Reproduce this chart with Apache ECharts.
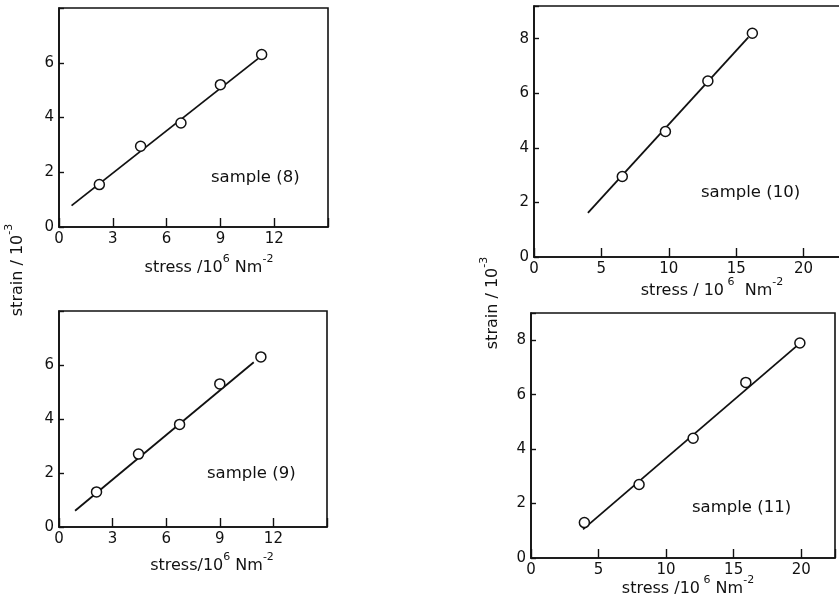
<!DOCTYPE html>
<html>
<head>
<meta charset="utf-8">
<script src="https://cdn.jsdelivr.net/npm/echarts@6/dist/echarts.min.js"></script>
<style>
html,body{margin:0;padding:0;background:#fff;}
#chart{width:839px;height:610px;}
</style>
</head>
<body>
<div id="chart"></div>
<script>
// ---- data ----
const p8StressX = [2.25, 4.55, 6.8, 9.0, 11.3];
const p8StrainY = [1.55, 2.95, 3.8, 5.2, 6.3];
const p8FitX = [0.7, 11.1];
const p8FitY = [0.78, 6.15];

const p9StressX = [2.1, 4.45, 6.75, 9.0, 11.3];
const p9StrainY = [1.3, 2.7, 3.8, 5.3, 6.3];
const p9FitX = [0.9, 10.9];
const p9FitY = [0.6, 6.1];

const p10StressX = [6.55, 9.75, 12.9, 16.2];
const p10StrainY = [2.95, 4.6, 6.45, 8.2];
const p10FitX = [4.0, 15.9];
const p10FitY = [1.62, 8.05];

const p11StressX = [3.95, 8.0, 12.0, 15.9, 19.9];
const p11StrainY = [1.3, 2.7, 4.4, 6.45, 7.9];
const p11FitX = [3.85, 19.7];
const p11FitY = [1.05, 7.8];

const leftXTicks = [0, 3, 6, 9, 12];
const leftYTicks = [0, 2, 4, 6];
const rightXTicks = [0, 5, 10, 15, 20];
const rightYTicks = [0, 2, 4, 6, 8];

// rich-text titles: {n|...} normal, {s|...} superscript
const xTitleLeftTop = '{n|stress /10}{s|6}{n| Nm}{s|-2}';
const xTitleLeftBottom = '{n|stress/10}{s|6}{n| Nm}{s|-2}';
const xTitleRightTop = '{n|stress / 10}{s| 6}{n|  Nm}{s|-2}';
const xTitleRightBottom = '{n|stress /10}{s| 6}{n| Nm}{s|-2}';
const yTitle = '{n|strain / 10}{s|-3}';
const sampleLabels = ['sample (8)', 'sample (9)', 'sample (10)', 'sample (11)'];

// ---- chart construction ----
const FONT = 'DejaVu Sans';
const INK = '#111';

const grids = [
  {left: 59, top: 8, width: 269, height: 219},
  {left: 59, top: 311, width: 268, height: 216},
  {left: 534, top: 6, width: 310, height: 251},
  {left: 531, top: 313, width: 304, height: 245}
];
const axesCfg = [
  {xmax: 15, xint: 3, xticks: leftXTicks, ymax: 8, yint: 2, yticks: leftYTicks},
  {xmax: 15, xint: 3, xticks: leftXTicks, ymax: 8, yint: 2, yticks: leftYTicks},
  {xmax: 23, xint: 5, xticks: rightXTicks, ymax: 9.2, yint: 2, yticks: rightYTicks},
  {xmax: 22.5, xint: 5, xticks: rightXTicks, ymax: 9, yint: 2, yticks: rightYTicks}
];
const panels = [
  {x: p8StressX, y: p8StrainY, fx: p8FitX, fy: p8FitY},
  {x: p9StressX, y: p9StrainY, fx: p9FitX, fy: p9FitY},
  {x: p10StressX, y: p10StrainY, fx: p10FitX, fy: p10FitY},
  {x: p11StressX, y: p11StrainY, fx: p11FitX, fy: p11FitY}
];

function fmt(list) {
  return function (v) {
    for (const t of list) { if (Math.abs(t - v) < 1e-6) return String(t); }
    return '';
  };
}

const option = {
  backgroundColor: '#fff',
  animation: false,
  grid: grids.map(g => Object.assign({
    show: true, borderColor: INK, borderWidth: 1.6, backgroundColor: 'transparent',
    containLabel: false, outerBoundsMode: 'none'
  }, g)),
  xAxis: axesCfg.map((a, i) => ({
    type: 'value', gridIndex: i, min: 0, max: a.xmax, interval: a.xint,
    axisLine: {show: true, onZero: false, lineStyle: {color: INK, width: 1.6}},
    axisTick: {show: true, inside: true, length: 9, lineStyle: {color: INK, width: 1.4}},
    axisLabel: {show: true, showMaxLabel: true, showMinLabel: true, hideOverlap: false,
      formatter: fmt(a.xticks), color: INK, fontFamily: FONT, fontSize: 15, margin: 5},
    splitLine: {show: false}
  })),
  yAxis: axesCfg.map((a, i) => ({
    type: 'value', gridIndex: i, min: 0, max: a.ymax, interval: a.yint,
    axisLine: {show: true, onZero: false, lineStyle: {color: INK, width: 1.6}},
    axisTick: {show: true, inside: true, length: 5, lineStyle: {color: INK, width: 1.4}},
    axisLabel: {show: true, showMaxLabel: true, showMinLabel: true, hideOverlap: false,
      formatter: fmt(a.yticks), color: INK, fontFamily: FONT, fontSize: 15, margin: 5},
    splitLine: {show: false}
  })),
  series: [],
  graphic: []
};

panels.forEach((p, i) => {
  option.series.push({
    type: 'line', xAxisIndex: i, yAxisIndex: i, symbol: 'none', silent: true,
    lineStyle: {color: INK, width: 1.8}, z: 2,
    data: p.fx.map((x, k) => [x, p.fy[k]])
  });
  option.series.push({
    type: 'scatter', xAxisIndex: i, yAxisIndex: i, symbol: 'circle', symbolSize: 10,
    itemStyle: {color: '#fff', borderColor: INK, borderWidth: 1.5, opacity: 1}, z: 3,
    data: p.x.map((x, k) => [x, p.y[k]])
  });
});

const rich = {
  n: {fontFamily: FONT, fontSize: 16, lineHeight: 22, verticalAlign: 'bottom', fill: INK},
  s: {fontFamily: FONT, fontSize: 11, lineHeight: 14, verticalAlign: 'top', fill: INK}
};
const titleStyle = t => ({text: t, fill: INK, rich: rich, align: 'center', verticalAlign: 'middle'});
const sampleStyle = t => ({text: t, fill: INK, font: '16.5px "' + FONT + '"', align: 'left', verticalAlign: 'middle'});

option.graphic = [
  {type: 'text', x: 209, y: 265, style: titleStyle(xTitleLeftTop)},
  {type: 'text', x: 212, y: 563, style: titleStyle(xTitleLeftBottom)},
  {type: 'text', x: 712, y: 288, style: titleStyle(xTitleRightTop)},
  {type: 'text', x: 688, y: 586, style: titleStyle(xTitleRightBottom)},
  {type: 'text', x: 15, y: 270, rotation: Math.PI / 2, style: titleStyle(yTitle)},
  {type: 'text', x: 490, y: 303, rotation: Math.PI / 2, style: titleStyle(yTitle)},
  {type: 'text', x: 211, y: 178, style: sampleStyle(sampleLabels[0])},
  {type: 'text', x: 207, y: 474, style: sampleStyle(sampleLabels[1])},
  {type: 'text', x: 701, y: 193, style: sampleStyle(sampleLabels[2])},
  {type: 'text', x: 692, y: 508, style: sampleStyle(sampleLabels[3])}
];

const chart = echarts.init(document.getElementById('chart'), null, {renderer: 'canvas'});
chart.setOption(option);
</script>
</body>
</html>
